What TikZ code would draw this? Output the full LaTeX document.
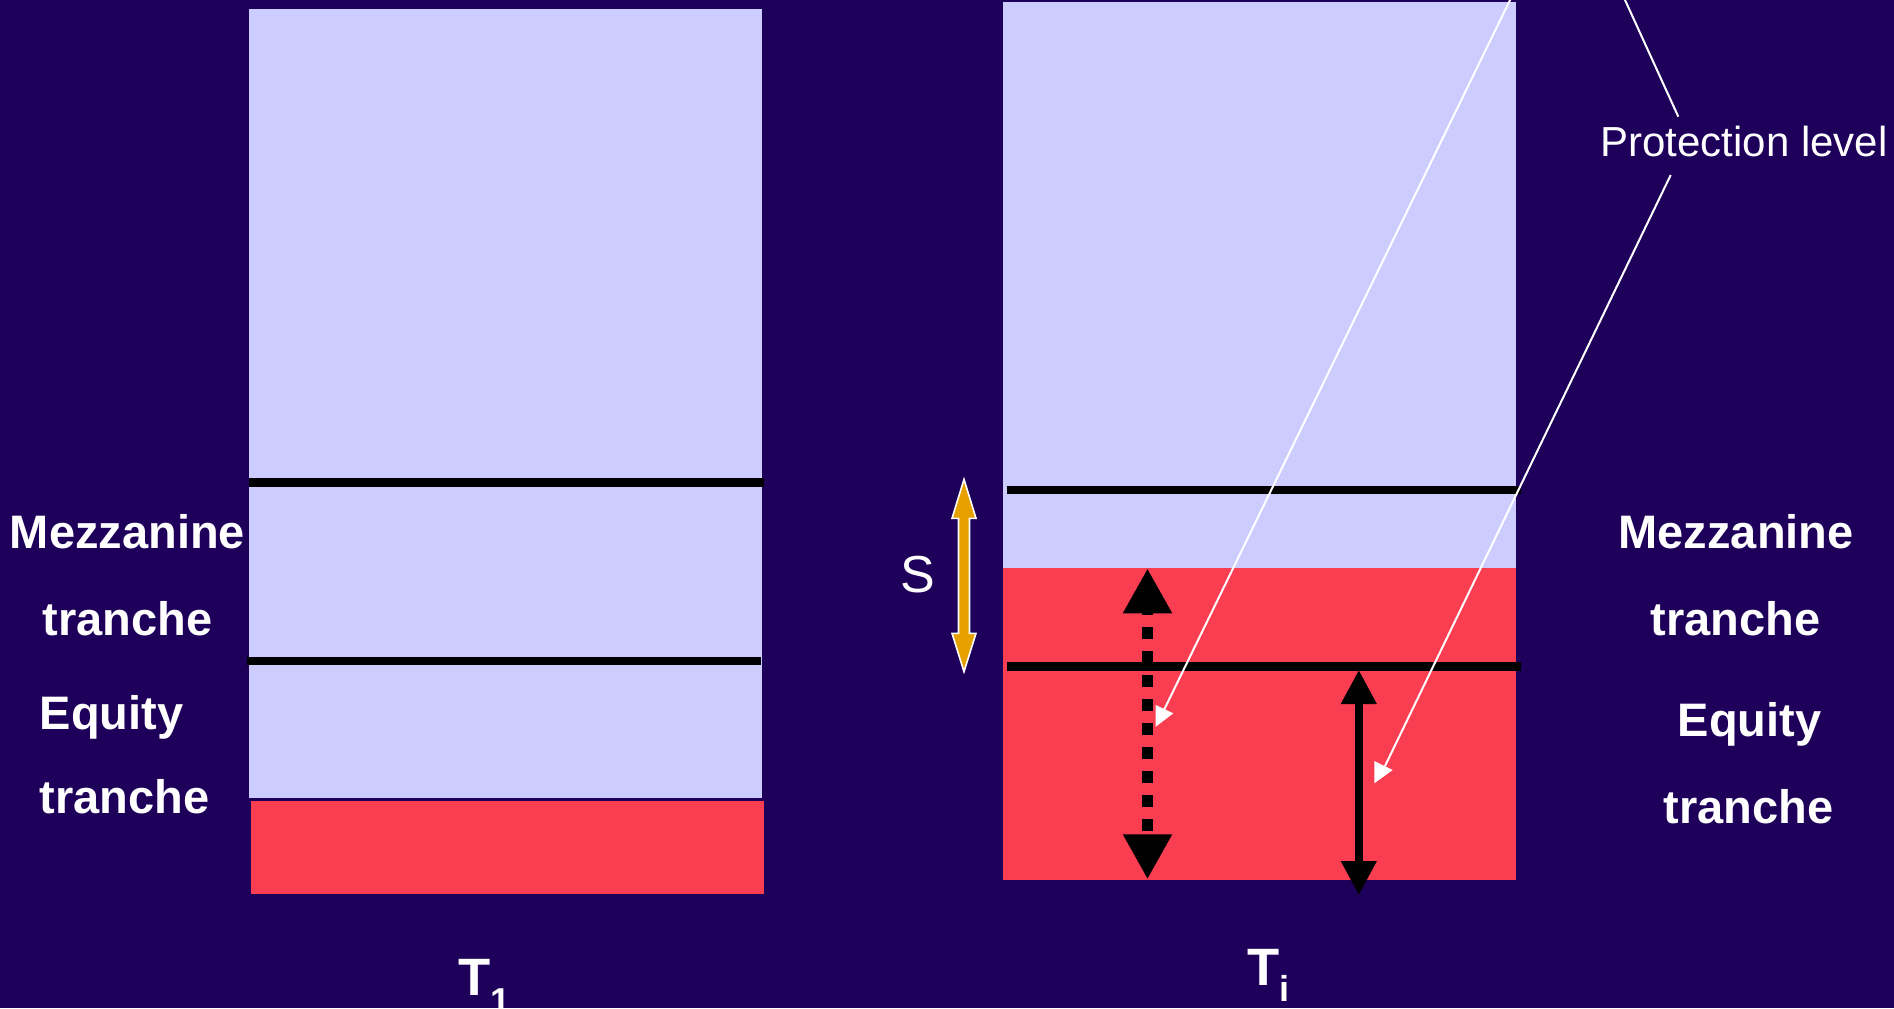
\documentclass[tikz,border=0pt]{standalone}
\usepackage{fontspec}
\setmainfont{Liberation Sans}
\usetikzlibrary{arrows.meta}
\definecolor{bgpurple}{RGB}{30,0,90}
\definecolor{lav}{RGB}{204,204,255}
\definecolor{trred}{RGB}{250,62,82}
\definecolor{sorange}{RGB}{230,160,0}
\begin{document}
\begin{tikzpicture}[x=0.5pt,y=-0.5pt,
  bandlabel/.style={font=\fontsize{23.5pt}{23.5pt}\selectfont\bfseries, text=white, anchor=base, inner sep=0pt},
  tline/.style={line width=4.1pt, black},
  wline/.style={line width=1pt, white},
  plabel/.style={font=\fontsize{21pt}{21pt}\selectfont, text=white, anchor=base, inner sep=0pt},
  tlabel/.style={font=\fontsize{26.3pt}{26.3pt}\selectfont\bfseries, text=white, anchor=base west, inner sep=0pt}]
\useasboundingbox (0,0) rectangle (1894,1008);
\fill[bgpurple] (0,0) rectangle (1894,1008);
\begin{scope}
\clip (0,0) rectangle (1894,1008);
% left column
\fill[lav] (248.8,8.5) rectangle (762.2,798.4);
\fill[trred] (251,800.9) rectangle (763.9,893.8);
\coordinate (l1a) at (248.9,482.5); \coordinate (l1b) at (764,482.5);
\coordinate (l2a) at (246.8,661); \coordinate (l2b) at (761,661);
\draw[tline] (l1a) -- (l1b);
\draw[tline] (l2a) -- (l2b);
% right column
\fill[lav] (1002.8,2) rectangle (1515.5,567.7);
\fill[trred] (1002.8,567.7) rectangle (1515.5,879.6);
\coordinate (r1a) at (1006.5,490.3); \coordinate (r1b) at (1521,490.3);
\coordinate (r2a) at (1006.5,666.5); \coordinate (r2b) at (1521,666.5);
\draw[tline] (r1a) -- (r1b);
\draw[tline] (r2a) -- (r2b);
% dotted double arrow
\coordinate (dtop) at (1147.5,568.3); \coordinate (dbot) at (1147.5,879.3);
\draw[line width=5.85pt, dash pattern=on 6pt off 6pt, dash phase=3.6pt,
  {Triangle[length=22.5pt,width=23pt]}-{Triangle[length=22.5pt,width=23pt]}] (dtop) -- (dbot);
% solid double arrow
\coordinate (stop) at (1358.8,670); \coordinate (sbot) at (1358.8,895);
\draw[line width=3.7pt,
  {Triangle[length=17pt,width=17pt]}-{Triangle[length=17pt,width=17pt]}] (stop) -- (sbot);
% S arrow
\fill[sorange, draw=white, line width=0.8pt, line join=miter]
  (964,479.3) -- (976,518.3) -- (969.5,518.3) -- (969.5,633.3) -- (976,633.3) -- (964,671.7)
  -- (952,633.3) -- (958.5,633.3) -- (958.5,518.3) -- (952,518.3) -- cycle;
\node[font=\fontsize{26pt}{26pt}\selectfont, text=white, anchor=base, inner sep=0pt] (slabel) at (918,592) {S};
% protection level callout
\node[plabel] (prot) at (1744,156) {Protection level};
\coordinate (apex) at (1569.4,-121.8);
\coordinate (ctop) at (1678.3,116.7);
\coordinate (cbot) at (1670.7,175);
\coordinate (aend) at (1163,712);
\coordinate (bend) at (1385,766);
\draw[wline] (ctop) -- (apex) -- (aend);
\draw[wline] (cbot) -- (bend);
\fill[white] (1155.7,705) -- (1173.3,713.3) -- (1155.7,726.7) -- cycle;
\fill[white] (1374.3,761) -- (1392.7,770) -- (1374.3,783.3) -- cycle;
% labels left
\node[bandlabel] (lmez) at (127.5,548.3) {Mezzanine};
\node[bandlabel] (ltr1) at (127.5,635) {tranche};
\node[bandlabel] (leq) at (111.7,729.3) {Equity};
\node[bandlabel] (ltr2) at (124.7,813.3) {tranche};
% labels right
\node[bandlabel] (rmez) at (1736.2,548.3) {Mezzanine};
\node[bandlabel] (rtr1) at (1735.3,635) {tranche};
\node[bandlabel] (req) at (1749.5,736.7) {Equity};
\node[bandlabel] (rtr2) at (1748.7,823.3) {tranche};
% time labels
\node[tlabel] (tone) at (458,995) {T\raisebox{-9pt}{\fontsize{18pt}{18pt}\selectfont 1}};
\node[tlabel] (tidx) at (1247,985) {T\raisebox{-8pt}{\fontsize{18pt}{18pt}\selectfont i}};
\end{scope}
\end{tikzpicture}
\end{document}
